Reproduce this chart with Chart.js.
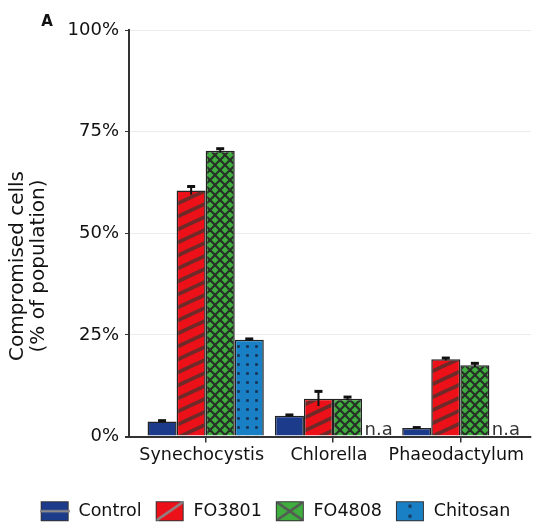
<!DOCTYPE html>
<html><head><meta charset="utf-8">
<script src="https://cdn.jsdelivr.net/npm/chart.js@4"></script>
<style>html,body{margin:0;padding:0;background:#fff}#wrap{width:534px;height:526px;position:relative}</style>
</head><body><div id="wrap"><canvas id="c"></canvas></div>
<script>
const categories = ['Synechocystis', 'Chlorella', 'Phaeodactylum'];
const seriesNames = ['Control', 'FO3801', 'FO4808', 'Chitosan'];
const controlValues = [3.7, 5.1, 2.1];
const fo3801Values = [60.5, 9.3, 19.0];
const fo4808Values = [70.3, 9.3, 17.5];
const chitosanValues = [23.8, null, null];
const controlErrors = [0.2, 0.2, 0.1];
const fo3801Errors = [1.0, 1.8, 0.3];
const fo4808Errors = [0.5, 0.4, 0.5];
const chitosanErrors = [0.2, 0, 0];
const naLabels = ['', 'n.a', 'n.a'];
const yTickValues = [0, 25, 50, 75, 100];
const yTitleLines = ['Compromised cells', '(% of population)'];
const panelLabel = 'A';

const FONT = '"DejaVu Sans", "Open Sans", sans-serif';
const canvas = document.getElementById('c');
const mainCtx = canvas.getContext('2d');

function tile(w, h, bg, draw) {
  const c = document.createElement('canvas');
  c.width = w; c.height = h;
  const g = c.getContext('2d');
  g.fillStyle = bg; g.fillRect(0, 0, w, h);
  draw(g, w, h);
  return mainCtx.createPattern(c, 'repeat');
}
const navyFill = '#1c3b8b';
const redFill = tile(28, 13, '#ec1119', (g, w, h) => {
  g.strokeStyle = '#6e2a28'; g.lineWidth = 3.8;
  [-w, 0, w].forEach(dx => [-h, 0, h].forEach(dy => {
    g.beginPath(); g.moveTo(dx, dy + h); g.lineTo(dx + w, dy); g.stroke();
  }));
});
const greenFill = tile(10, 10, '#3fae3f', (g, w, h) => {
  g.strokeStyle = '#263026'; g.lineWidth = 2.2;
  [-w, 0, w].forEach(dx => {
    g.beginPath(); g.moveTo(dx, h); g.lineTo(dx + w, 0); g.stroke();
    g.beginPath(); g.moveTo(dx, 0); g.lineTo(dx + w, h); g.stroke();
  });
});
const blueFill = tile(9, 9, '#1a80c6', (g, w, h) => {
  g.fillStyle = '#17304f';
  g.fillRect(w / 2 - 1.3, h / 2 - 1.3, 2.6, 2.6);
});

function icon(bg, draw) {
  const c = document.createElement('canvas');
  c.width = 30; c.height = 22;
  const g = c.getContext('2d');
  g.fillStyle = bg; g.fillRect(1, 1, 28, 20);
  g.strokeStyle = '#333'; g.lineWidth = 1; g.strokeRect(1.5, 1.5, 27, 19);
  g.strokeStyle = '#8a8a8a'; g.fillStyle = '#1a3355';
  draw(g);
  return c;
}
const legendIcons = [
  icon(navyFill, g => { g.lineWidth = 2.5; g.beginPath(); g.moveTo(0, 11); g.lineTo(30, 11); g.stroke(); }),
  icon('#ec1119', g => { g.lineWidth = 2.5; g.beginPath(); g.moveTo(2, 20); g.lineTo(28, 2); g.stroke(); }),
  icon('#3fae3f', g => { g.strokeStyle = '#555'; g.lineWidth = 2.5; g.beginPath(); g.moveTo(2, 20); g.lineTo(28, 2); g.moveTo(2, 2); g.lineTo(28, 20); g.stroke(); }),
  icon('#1a80c6', g => { [6, 16].forEach(y => { g.fillRect(13.5, y - 1.5, 3, 3); }); })
];

const seriesValues = [controlValues, fo3801Values, fo4808Values, chitosanValues];
const seriesErrors = [controlErrors, fo3801Errors, fo4808Errors, chitosanErrors];
const fills = [navyFill, redFill, greenFill, blueFill];

const extras = {
  id: 'extras',
  afterLayout(chart) {
    const x = chart.scales.x;
    x.left = 142; x.right = 524; x.width = x.right - x.left;
    x.configure();
    const lg = chart.legend;
    if (lg) { lg.top += 4; lg.bottom += 4; lg.left += 8; lg.right += 8; }
  },
  afterDatasetsDraw(chart) {
    const ctx = chart.ctx, y = chart.scales.y;
    ctx.save();
    seriesValues.forEach((vals, i) => {
      const meta = chart.getDatasetMeta(i);
      vals.forEach((v, j) => {
        const e = seriesErrors[i][j];
        if (v == null || !e) return;
        const el = meta.data[j];
        const top = y.getPixelForValue(v + e), bot = y.getPixelForValue(v - e);
        ctx.strokeStyle = '#111'; ctx.lineWidth = 2;
        ctx.beginPath(); ctx.moveTo(el.x, top); ctx.lineTo(el.x, bot); ctx.stroke();
        ctx.lineWidth = 3;
        ctx.beginPath(); ctx.moveTo(el.x - 4, top); ctx.lineTo(el.x + 4, top); ctx.stroke();
      });
    });
    const meta3 = chart.getDatasetMeta(3);
    const xs = chart.scales.x;
    ctx.fillStyle = '#333'; ctx.font = '18px ' + FONT;
    ctx.textAlign = 'center'; ctx.textBaseline = 'alphabetic';
    naLabels.forEach((t, j) => {
      if (!t) return;
      const el = meta3.data[j];
      const px = el && isFinite(el.x) ? el.x : xs.getPixelForValue(j);
      ctx.fillText(t, px + 2, y.getPixelForValue(0) - 2);
    });
    ctx.restore();
  },
  afterDraw(chart) {
    const ctx = chart.ctx;
    ctx.save();
    ctx.fillStyle = '#111';
    ctx.font = '20px ' + FONT;
    ctx.textAlign = 'center'; ctx.textBaseline = 'middle';
    [18, 39].forEach((cx, k) => {
      ctx.save();
      ctx.translate(cx, 266);
      ctx.rotate(-Math.PI / 2);
      ctx.fillText(yTitleLines[k], 0, 0);
      ctx.restore();
    });
    ctx.font = 'bold 15px ' + FONT;
    ctx.fillText(panelLabel, 47, 22);
    ctx.restore();
  }
};

Chart.defaults.font.family = FONT;
Chart.defaults.font.size = 17.5;
Chart.defaults.color = '#111';

new Chart(canvas, {
  type: 'bar',
  data: {
    labels: categories,
    datasets: seriesNames.map((name, i) => ({
      label: name,
      data: seriesValues[i],
      backgroundColor: fills[i],
      borderColor: '#222',
      borderWidth: 1.5,
      categoryPercentage: 0.913,
      barPercentage: 1.0
    }))
  },
  options: {
    responsive: true,
    maintainAspectRatio: false,
    animation: false,
    layout: { padding: { top: 30, right: 0, bottom: 0, left: 0 } },
    plugins: {
      tooltip: { enabled: false },
      legend: {
        position: 'bottom',
        labels: {
          usePointStyle: true,
          pointStyleWidth: 30,
          padding: 13,
          font: { size: 17.5 },
          color: '#111',
          generateLabels: (chart) => seriesNames.map((n, i) => ({
            text: n, pointStyle: legendIcons[i], datasetIndex: i,
            fillStyle: '#fff', strokeStyle: '#fff', lineWidth: 0, hidden: false, fontColor: '#111'
          }))
        }
      }
    },
    scales: {
      x: {
        offset: true,
        border: { display: false },
        grid: { display: true, drawOnChartArea: false, drawTicks: true, offset: false, tickLength: 6, color: '#333', tickColor: '#333', lineWidth: 1.5 },
        ticks: { padding: 2, labelOffset: -4, font: { size: 17.5 }, color: '#111', maxRotation: 0, autoSkip: false },
        afterFit: (s) => { s.height = 49; }
      },
      y: {
        min: 0, max: 100,
        afterBuildTicks: (s) => { s.ticks = yTickValues.map(v => ({ value: v })); },
        border: { display: true, color: '#333', width: 2 },
        grid: {
          color: (c) => c.tick && c.tick.value === 0 ? '#333' : '#ececec',
          lineWidth: (c) => c.tick && c.tick.value === 0 ? 2 : 1,
          tickColor: '#333', tickLength: 4
        },
        ticks: { padding: 6, font: { size: 18 }, color: '#111', callback: (v) => v + '%' },
        afterFit: (s) => { s.width = 129; }
      }
    }
  },
  plugins: [extras]
});
</script>
</body></html>
